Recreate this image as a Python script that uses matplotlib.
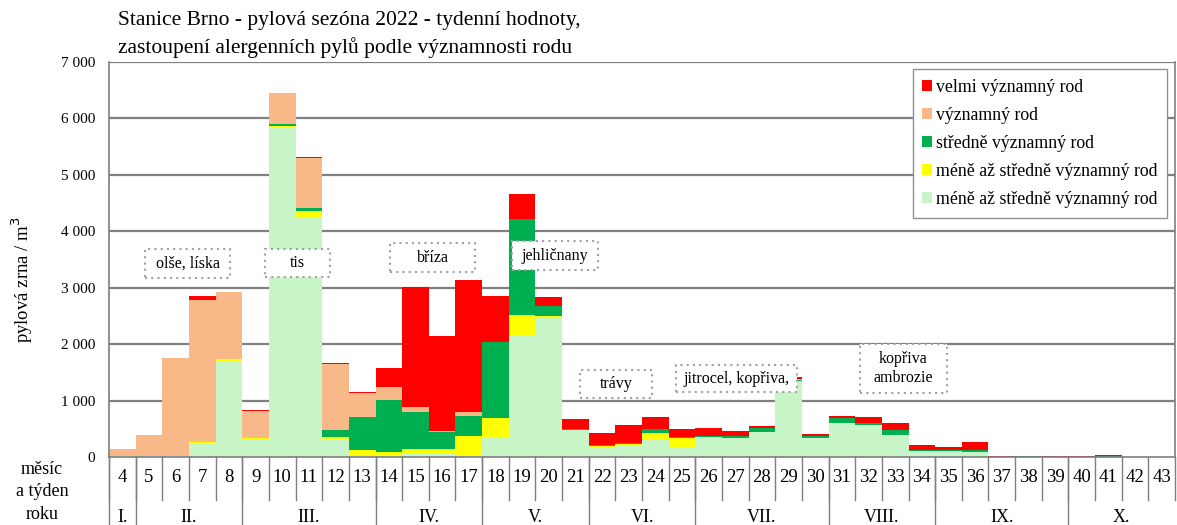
import numpy as np
import matplotlib
matplotlib.use("Agg")
import matplotlib.pyplot as plt
from matplotlib.patches import Patch, Rectangle
from matplotlib.ticker import FuncFormatter
import matplotlib.transforms as mtransforms

plt.rcParams['font.family'] = ['Liberation Serif', 'DejaVu Serif']

weeks = list(range(4, 44))

# tydenni hodnoty podle skupin (pyl. zrna / m3), od spodu nahoru
mene_sv2 = [20, 20, 20, 250, 1700, 320, 5850, 4250, 300, 30, 30, 50, 50, 40, 360, 2160, 2480, 470,
            180, 190, 300, 180, 340, 330, 450, 1330, 340, 600, 560, 390, 110, 110, 90, 5, 0, 0,
            0, 5, 0, 0]
mene_sv1 = [0, 0, 0, 20, 30, 20, 10, 110, 50, 95, 50, 100, 100, 330, 330, 360, 20, 0,
            10, 40, 125, 150, 20, 0, 0, 10, 0, 0, 0, 0, 0, 0, 0, 0, 0, 0,
            0, 0, 0, 0]
stredne = [0, 0, 0, 0, 0, 0, 50, 60, 130, 590, 930, 650, 300, 360, 1340, 1700, 180, 30,
           20, 20, 70, 30, 20, 40, 60, 30, 30, 90, 40, 90, 20, 20, 30, 0, 15, 0,
           0, 5, 0, 0]
vyznamny = [130, 370, 1730, 2520, 1190, 480, 540, 880, 1170, 420, 230, 90, 10, 70, 0, 0, 0, 0,
            0, 0, 0, 0, 0, 0, 0, 10, 0, 0, 0, 0, 0, 0, 0, 0, 0, 0,
            0, 0, 0, 0]
velmi = [0, 0, 0, 60, 0, 10, 0, 20, 20, 25, 340, 2130, 1680, 2340, 830, 440, 160, 180,
         220, 320, 220, 135, 130, 90, 45, 40, 40, 40, 110, 130, 80, 50, 150, 15, 0, 15,
         10, 20, 0, 0]

series = [mene_sv2, mene_sv1, stredne, vyznamny, velmi]
colors = ['#C8F5C8', '#FFFF00', '#00B050', '#F9B888', '#FF0000']
labels = ['méně až středně významný rod', 'méně až středně významný rod',
          'středně významný rod', 'významný rod', 'velmi významný rod']

months = ['I.', 'II.', 'III.', 'IV.', 'V.', 'VI.', 'VII.', 'VIII.', 'IX.', 'X.']
month_first = [4, 5, 9, 14, 18, 22, 26, 31, 35, 40]
month_last = [4, 8, 13, 17, 21, 25, 30, 34, 39, 43]

# popisky rodu: text, stred x (index tydne), stred y, sirka, vyska
notes = [("olše, líska", 2.45, 3430, 3.2, 510),
         ("tis", 6.57, 3440, 2.45, 500),
         ("bříza", 11.64, 3535, 3.2, 510),
         ("jehličnany", 16.24, 3570, 3.25, 510),
         ("trávy", 18.52, 1295, 2.7, 500),
         ("jitrocel, kopřiva,", 23.05, 1390, 4.55, 480),
         ("kopřiva\nambrozie", 29.31, 1568, 3.27, 870)]

fig = plt.figure(figsize=(11.77, 5.25), dpi=100)
ax = fig.add_axes([109 / 1177, 68 / 525, 1066 / 1177, 395 / 525])

x = np.arange(len(weeks))
bottom = np.zeros(len(weeks))
for vals, c in zip(series, colors):
    ax.bar(x, vals, width=1.0, bottom=bottom, color=c, edgecolor='none', zorder=2)
    bottom += np.array(vals)

ax.set_xlim(-0.5, len(weeks) - 0.5)
ax.set_ylim(0, 7000)
ax.set_yticks(np.arange(0, 7001, 1000))
ax.yaxis.set_major_formatter(FuncFormatter(lambda v, p: "{:,.0f}".format(v).replace(",", " ")))
ax.set_xticks([])
ax.tick_params(axis='y', length=0, pad=10, labelsize=11)
for yv in np.arange(1000, 7001, 1000):
    ax.axhline(yv, color='#7f7f7f', lw=1.6, zorder=1)
for s in ['left', 'right', 'bottom']:
    ax.spines[s].set_color('#7f7f7f')
    ax.spines[s].set_linewidth(1.2)
ax.spines['top'].set_visible(False)
ax.spines['bottom'].set_zorder(3)

for txt, cx, cy, w, h in notes:
    ax.add_patch(Rectangle((cx - w / 2, cy - h / 2), w, h, facecolor='white',
                           edgecolor='#a0a0a0', linestyle=(0, (1, 2)), lw=1.5, zorder=4))
    ax.text(cx, cy, txt, ha='center', va='center', fontsize=11.5, zorder=5, linespacing=1.3)

# tabulka tydnu a mesicu pod osou
trans = mtransforms.blended_transform_factory(ax.transData, ax.transAxes)
for i, wk in enumerate(weeks):
    ax.text(i, -0.053, str(wk), transform=trans, ha='center', va='center', fontsize=13.5)
for i in range(len(weeks) + 1):
    ax.plot([i - 0.5, i - 0.5], [0, -0.11], transform=trans, color='#7f7f7f', lw=1, clip_on=False)
for m, a, b in zip(months, month_first, month_last):
    ax.plot([a - 4.5, a - 4.5], [0, -0.2], transform=trans, color='#7f7f7f', lw=1, clip_on=False)
    ax.text((a + b) / 2 - 4, -0.152, m, transform=trans, ha='center', va='center', fontsize=13)
fig.text(42 / 1177, 1 - 492 / 525, "měsíc\na týden\nroku", ha='center', va='center',
         fontsize=13, linespacing=1.4)

handles = [Patch(facecolor=c, edgecolor='none', label=l) for c, l in zip(colors[::-1], labels[::-1])]
leg = ax.legend(handles=handles, loc='upper right', bbox_to_anchor=(0.9925, 0.982), fontsize=12.8,
                frameon=True, fancybox=False, edgecolor='#909090', framealpha=1,
                handlelength=0.55, handleheight=0.55, handletextpad=0.2, labelspacing=0.62,
                borderpad=0.55, borderaxespad=0)
leg.get_frame().set_linewidth(1)
leg.set_zorder(6)

fig.text(22 / 1177, 1 - 280 / 525, "pylová zrna / m$^3$", rotation=90, ha='center', va='center',
         fontsize=13.5)
fig.text(118 / 1177, 1 - 11 / 525,
         "Stanice Brno - pylová sezóna 2022 - tydenní hodnoty,\nzastoupení alergenních pylů podle významnosti rodu",
         ha='left', va='top', fontsize=15.5, linespacing=1.45)

fig.savefig("out.png", dpi=100)
